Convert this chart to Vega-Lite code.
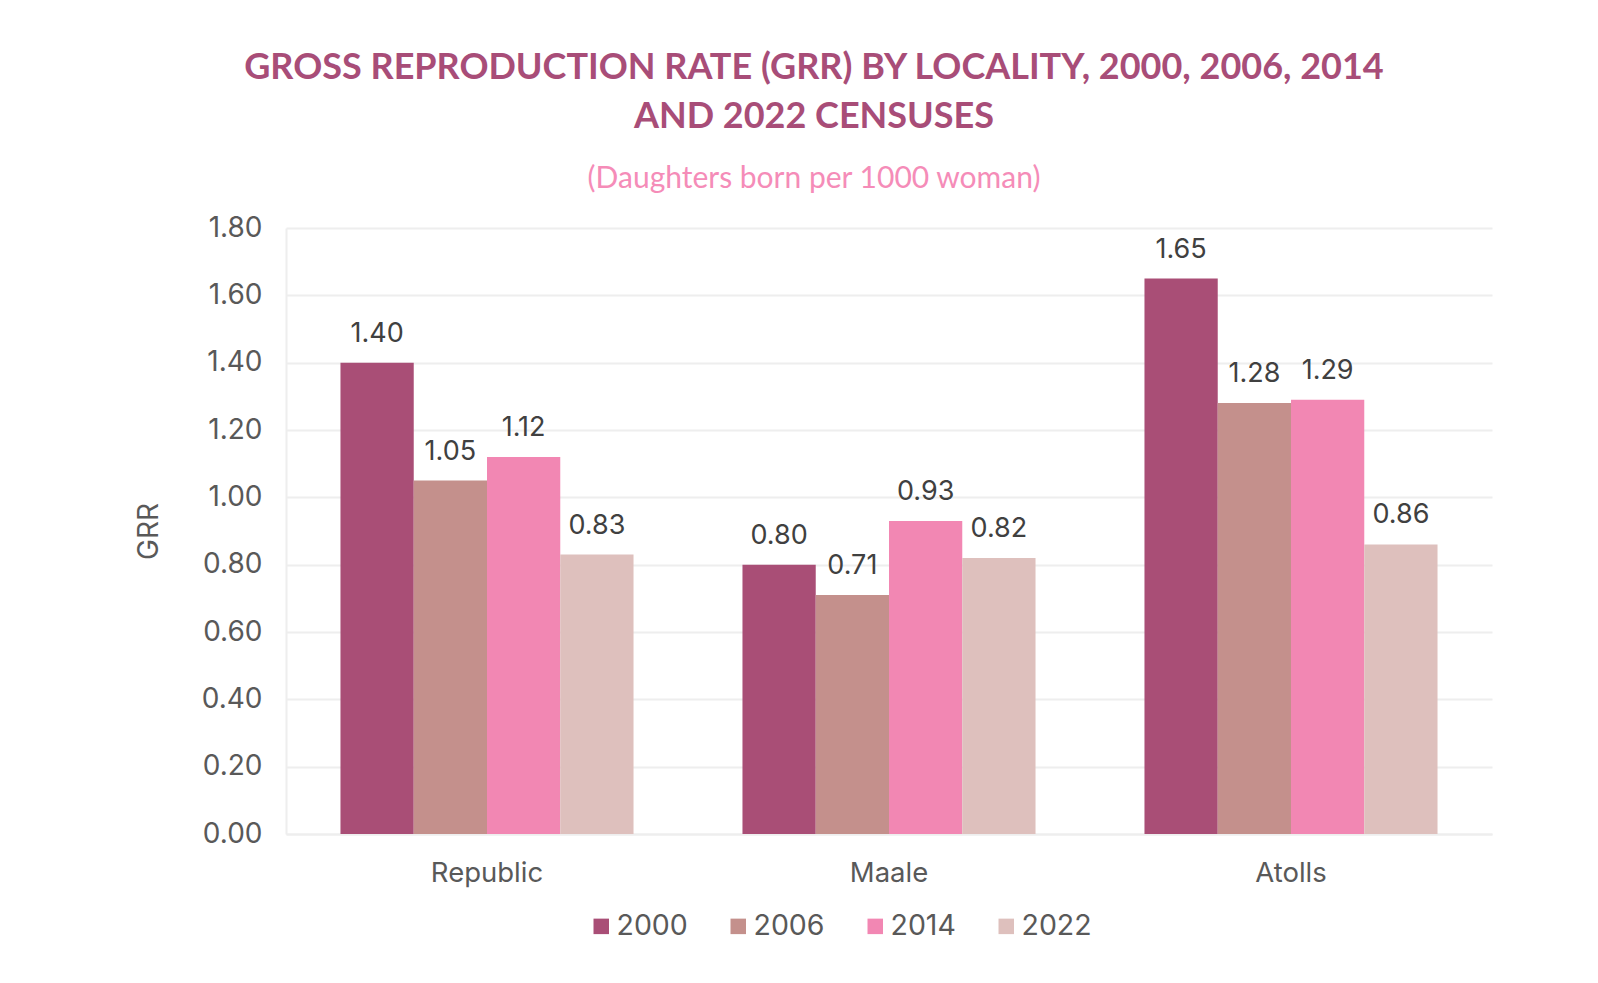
{
  "$schema": "https://vega.github.io/schema/vega-lite/v6.json",
  "autosize": {"type": "none"},
  "padding": {"left": 286, "top": 228, "right": 106, "bottom": 149},
  "width": 1206,
  "height": 606,
  "background": "white",
  "config": {"view": {"stroke": null}},
  "title": {
    "text": ["GROSS REPRODUCTION RATE (GRR) BY LOCALITY, 2000, 2006, 2014", "AND 2022 CENSUSES"],
    "subtitle": "(Daughters born per 1000 woman)",
    "anchor": "middle",
    "frame": "group",
    "dx": -75,
    "offset": 19,
    "font": "Lato",
    "fontSize": 36,
    "fontWeight": "bold",
    "color": "#A84D78",
    "lineHeight": 49,
    "subtitleFont": "Lato",
    "subtitleFontSize": 30,
    "subtitleColor": "#F58CB8",
    "subtitlePadding": 28
  },
  "data": {
    "values": [
      {"locality": "Republic", "year": "2000", "grr": 1.40},
      {"locality": "Republic", "year": "2006", "grr": 1.05},
      {"locality": "Republic", "year": "2014", "grr": 1.12},
      {"locality": "Republic", "year": "2022", "grr": 0.83},
      {"locality": "Maale", "year": "2000", "grr": 0.80},
      {"locality": "Maale", "year": "2006", "grr": 0.71},
      {"locality": "Maale", "year": "2014", "grr": 0.93},
      {"locality": "Maale", "year": "2022", "grr": 0.82},
      {"locality": "Atolls", "year": "2000", "grr": 1.65},
      {"locality": "Atolls", "year": "2006", "grr": 1.28},
      {"locality": "Atolls", "year": "2014", "grr": 1.29},
      {"locality": "Atolls", "year": "2022", "grr": 0.86}
    ]
  },
  "encoding": {
    "x": {
      "field": "locality",
      "type": "nominal",
      "sort": ["Republic", "Maale", "Atolls"],
      "scale": {"paddingInner": 0.271, "paddingOuter": 0.1355},
      "axis": {
        "title": null,
        "labelAngle": 0,
        "labelFont": "Inter",
        "labelFontSize": 27.5,
        "labelColor": "#595959",
        "labelPadding": 25,
        "labelDx": 3,
        "ticks": false,
        "domain": true,
        "domainColor": "#eeeeee",
        "domainWidth": 2,
        "grid": false
      }
    },
    "xOffset": {"field": "year", "type": "nominal", "scale": {"paddingInner": 0, "paddingOuter": 0}},
    "y": {
      "field": "grr",
      "type": "quantitative",
      "scale": {"domain": [0, 1.8], "nice": false},
      "axis": {
        "title": "GRR",
        "titleFont": "Inter",
        "titleFontSize": 28,
        "titleFontWeight": "normal",
        "titleColor": "#595959",
        "titlePadding": 38,
        "values": [0, 0.2, 0.4, 0.6, 0.8, 1.0, 1.2, 1.4, 1.6, 1.8],
        "format": ".2f",
        "labelFont": "Inter",
        "labelFontSize": 28,
        "labelColor": "#595959",
        "labelPadding": 24,
        "ticks": false,
        "domain": true,
        "domainColor": "#eeeeee",
        "domainWidth": 2,
        "grid": true,
        "gridColor": "#eeeeee",
        "gridWidth": 2
      }
    }
  },
  "layer": [
    {
      "mark": {"type": "bar"},
      "encoding": {
        "color": {
          "field": "year",
          "type": "nominal",
          "scale": {"domain": ["2000", "2006", "2014", "2022"], "range": ["#A94E76", "#C4908C", "#F287B3", "#DEC0BD"]},
          "legend": {
            "title": null,
            "orient": "none",
            "direction": "horizontal",
            "legendX": 301,
            "legendY": 684,
            "labelFont": "Inter",
            "labelFontSize": 28.5,
            "labelColor": "#595959",
            "symbolType": "square",
            "symbolSize": 240,
            "symbolStrokeWidth": 0,
            "labelOffset": 1,
            "columnPadding": 36
          }
        }
      }
    },
    {
      "mark": {"type": "text", "baseline": "middle", "dy": -29, "font": "Inter", "fontSize": 27, "color": "#404040"},
      "encoding": {
        "text": {"field": "grr", "type": "quantitative", "format": ".2f"}
      }
    }
  ]
}
